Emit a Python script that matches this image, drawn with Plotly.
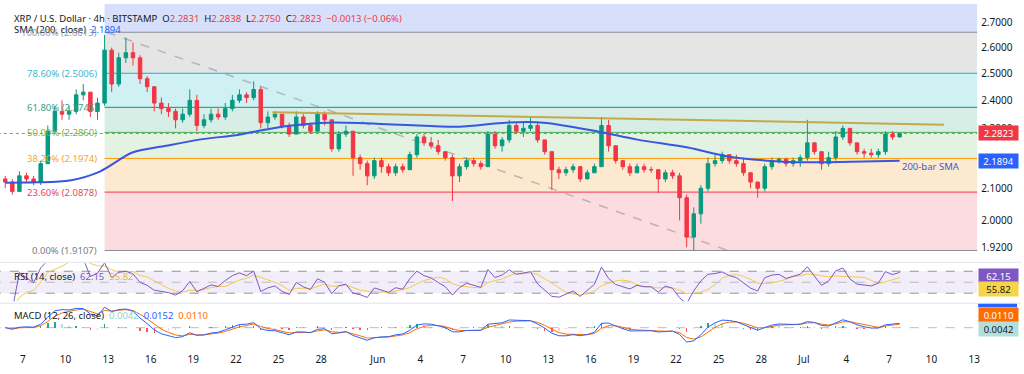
import math
import pandas as pd
import plotly.graph_objects as go

W, H = 1024, 374
FONT = "Noto Sans"

# ---------------- data ----------------
bar_centre_start = "2025-05-05 18:00"   # 12h bars, centre of first bar
bar_freq = "12h"
first_open = 2.13
closes = [
    2.12,
    2.09, 2.14,   2.13, 2.12,   2.18, 2.29,   2.36, 2.35,   2.36, 2.42,   2.43, 2.36,
    2.39, 2.59,   2.46, 2.56,   2.58, 2.56,   2.48, 2.45,   2.39, 2.37,   2.36, 2.33,
    2.35, 2.40,   2.31, 2.33,   2.35, 2.34,   2.37, 2.40,   2.42, 2.41,   2.44, 2.32,
    2.34, 2.35,   2.31, 2.28,   2.34, 2.31,   2.29, 2.35,   2.33, 2.23,   2.28, 2.29,
    2.20, 2.18,   2.14, 2.19,
    2.17, 2.15,   2.17, 2.16,   2.21, 2.27,   2.25, 2.24,   2.22, 2.20,   2.14, 2.17,
    2.19, 2.18,   2.17, 2.28,   2.24, 2.26,   2.31, 2.29,   2.30, 2.31,   2.26, 2.22,
    2.16, 2.15,   2.16, 2.17,   2.13, 2.15,   2.17, 2.31,   2.24, 2.19,   2.17, 2.15,
    2.17, 2.16,   2.16, 2.13,   2.15, 2.14,   2.07, 1.95,   2.02, 2.10,   2.18, 2.19,
    2.21, 2.19,   2.18, 2.15,   2.12, 2.10,   2.17, 2.19,   2.195, 2.18,  2.19, 2.20,
    2.25, 2.22,   2.18, 2.20,   2.27, 2.30,   2.25, 2.22,   2.215, 2.21,  2.22, 2.28,
    2.27, 2.2823,
]
highs = [
    2.14,
    2.13, 2.155,  2.15, 2.14,   2.19, 2.31,   2.38, 2.40,   2.38, 2.44,   2.46, 2.43,
    2.41, 2.65,   2.60, 2.58,   2.64, 2.62,   2.57, 2.49,   2.45, 2.41,   2.39, 2.37,
    2.37, 2.44,   2.42, 2.35,   2.37, 2.37,   2.39, 2.42,   2.44, 2.43,   2.47, 2.45,
    2.36, 2.36,   2.35, 2.32,   2.36, 2.35,   2.32, 2.36,   2.36, 2.33,   2.29, 2.31,
    2.29, 2.21,   2.19, 2.20,
    2.20, 2.18,   2.18, 2.18,   2.22, 2.28,   2.28, 2.27,   2.26, 2.22,   2.21, 2.18,
    2.20, 2.20,   2.19, 2.29,   2.29, 2.27,   2.33, 2.32,   2.32, 2.34,   2.32, 2.26,
    2.22, 2.17,   2.17, 2.18,   2.17, 2.16,   2.18, 2.34,   2.33, 2.24,   2.19, 2.18,
    2.18, 2.18,   2.17, 2.16,   2.16, 2.16,   2.15, 2.08,   2.04, 2.11,   2.20, 2.21,
    2.22, 2.21,   2.21, 2.20,   2.15, 2.12,   2.18, 2.20,   2.20, 2.20,   2.20, 2.21,
    2.33, 2.25,   2.22, 2.22,   2.29, 2.31,   2.30, 2.25,   2.23, 2.23,   2.23, 2.29,
    2.29, 2.2838,
]
lows = [
    2.10,
    2.08, 2.09,   2.12, 2.11,   2.11, 2.18,   2.28, 2.33,   2.33, 2.35,   2.40, 2.34,
    2.33, 2.38,   2.43, 2.45,   2.54, 2.53,   2.46, 2.43,   2.36, 2.35,   2.34, 2.30,
    2.32, 2.34,   2.29, 2.30,   2.32, 2.33,   2.33, 2.36,   2.39, 2.39,   2.40, 2.30,
    2.30, 2.33,   2.30, 2.27,   2.28, 2.30,   2.28, 2.29,   2.31, 2.22,   2.22, 2.27,
    2.14, 2.16,   2.11, 2.13,
    2.15, 2.14,   2.14, 2.15,   2.16, 2.20,   2.24, 2.23,   2.21, 2.19,   2.06, 2.12,
    2.16, 2.17,   2.16, 2.17,   2.23, 2.22,   2.25, 2.28,   2.27, 2.29,   2.25, 2.21,
    2.095, 2.13,  2.14, 2.15,   2.12, 2.13,   2.15, 2.17,   2.22, 2.18,   2.16, 2.14,
    2.15, 2.15,   2.15, 2.085,  2.12, 2.13,   2.00, 1.92,   1.9107, 1.99, 2.09, 2.17,
    2.18, 2.18,   2.17, 2.14,   2.10, 2.07,   2.09, 2.16,   2.18, 2.17,   2.17, 2.17,
    2.19, 2.21,   2.16, 2.17,   2.19, 2.26,   2.24, 2.21,   2.20, 2.20,   2.20, 2.21,
    2.26, 2.27,
]

sma_dates = ["2025-05-05 18:00", "2025-05-07 23:00", "2025-05-10 07:00", "2025-05-12 10:00",
             "2025-05-14 17:00", "2025-05-17 02:00", "2025-05-19 10:00", "2025-05-22 05:00",
             "2025-05-24 03:00", "2025-05-25 18:00", "2025-05-28 13:00", "2025-06-02 12:00",
             "2025-06-06 17:00", "2025-06-10 00:00", "2025-06-12 16:00", "2025-06-16 12:00",
             "2025-06-19 07:00", "2025-06-22 20:00", "2025-06-25 16:00", "2025-06-28 11:00",
             "2025-06-30 13:00", "2025-07-02 16:00", "2025-07-07 18:00"]
sma_values = [2.118, 2.119, 2.125, 2.154, 2.217, 2.240, 2.261, 2.278, 2.296, 2.309, 2.320, 2.313,
              2.306, 2.320, 2.320, 2.289, 2.261, 2.234, 2.204, 2.190, 2.185, 2.185, 2.1894]

fib_pcts = [0.0, 23.6, 38.2, 50.0, 61.8, 78.6, 100.0]
fib_levels = [1.9107, 2.0878, 2.1974, 2.2860, 2.3746, 2.5006, 2.6613]
fib_line_colors = ["#8a8d96", "#f23645", "#ff9800", "#4caf50", "#089981", "#00bcd4", "#8a8d96"]
fib_label_colors = ["#787b86", "#e04c5f", "#f5a623", "#7cb342", "#3a9e8a", "#3db8cc", "#9a9da6"]
fib_zone_colors = ["#fcdcdf", "#fde9cf", "#e3f2e1", "#d6eee6", "#d0f1f4", "#e5e5e6"]
fib_top_color = "#d7e0fa"
fib_top_price = 3.0
fib_start = "2025-05-12 18:00"
far_right = "2025-07-20 00:00"
far_left = "2025-05-01 00:00"

trend_dates = ["2025-05-24 13:30", "2025-07-10 21:00"]
trend_values = [2.357, 2.313]
diag_dates = ["2025-05-12 21:30", "2025-06-25 15:30"]
diag_values = [2.6613, 1.9107]

last_price = 2.2823
sma_last = 2.1894
ohlc_letters = ["O", "H", "L", "C"]
ohlc_values = ["2.2831", "2.2838", "2.2750", "2.2823"]
change_text = "\u22120.0013 (\u22120.06%)"
rsi_last, rsi_ma_last = "62.15", "55.82"
macd_hist_last, macd_last, macd_signal_last = "0.0042", "0.0152", "0.0110"

price_ticks = [1.92, 2.0, 2.1, 2.3, 2.4, 2.5, 2.6, 2.7]
date_ticks = ["2025-05-07", "2025-05-10", "2025-05-13", "2025-05-16", "2025-05-19", "2025-05-22",
              "2025-05-25", "2025-05-28", "2025-06-01", "2025-06-04", "2025-06-07", "2025-06-10",
              "2025-06-13", "2025-06-16", "2025-06-19", "2025-06-22", "2025-06-25", "2025-06-28",
              "2025-07-01", "2025-07-04", "2025-07-07", "2025-07-10", "2025-07-13"]
date_labels = ["7", "10", "13", "16", "19", "22", "25", "28", "Jun", "4", "7", "10", "13", "16",
               "19", "22", "25", "28", "Jul", "4", "7", "10", "13"]

# indicator lengths (4h settings expressed in 12h bars)
RSI_LEN, RSI_MA_LEN = 5, 5
MACD_FAST, MACD_SLOW, MACD_SIG = 4, 9, 3

# ---------------- derived series ----------------
n = len(closes)
assert len(highs) == n and len(lows) == n
times = pd.date_range(bar_centre_start, periods=n, freq=bar_freq)
opens = [first_open] + closes[:-1]

c = pd.Series(closes, dtype=float)
delta = c.diff().fillna(0.0)
gain = delta.clip(lower=0).ewm(alpha=1 / RSI_LEN, adjust=False).mean()
loss = (-delta.clip(upper=0)).ewm(alpha=1 / RSI_LEN, adjust=False).mean()
rsi = 100 - 100 / (1 + gain / loss.replace(0, 1e-9))
rsi_ma = rsi.rolling(RSI_MA_LEN, min_periods=1).mean()

macd = c.ewm(span=MACD_FAST, adjust=False).mean() - c.ewm(span=MACD_SLOW, adjust=False).mean()
signal = macd.ewm(span=MACD_SIG, adjust=False).mean()
hist = macd - signal
hist_colors = []
for i, h in enumerate(hist):
    prev = hist.iloc[i - 1] if i > 0 else 0
    if h >= 0:
        hist_colors.append("#26a69a" if h >= prev else "#b2dfdb")
    else:
        hist_colors.append("#ffcdd2" if h >= prev else "#ff5252")

# ---------------- layout geometry ----------------
PLOT_RIGHT = 980


def pyp(pix):
    return 1 - pix / H


main_dom = [pyp(253), pyp(4)]
rsi_dom = [pyp(302), pyp(264)]
macd_dom = [pyp(346), pyp(305)]
x_range = ["2025-05-05 09:12", "2025-07-13 05:00"]
price_range = [math.log10(1.9054), math.log10(2.778)]
mlo, mhi = float(min(macd.min(), signal.min())), float(max(macd.max(), signal.max()))
pad = (mhi - mlo) * 3 / 35
macd_range = [mlo - pad, mhi + pad]

fig = go.Figure()

# fib zones (base subplot x/y, drawn underneath the overlay with the candles)
zone_bounds = list(zip(fib_levels[:-1], fib_levels[1:])) + [(fib_levels[-1], fib_top_price)]
zone_cols = fib_zone_colors + [fib_top_color]
for (lo, hi), col in zip(zone_bounds, zone_cols):
    fig.add_trace(go.Scatter(x=[fib_start, far_right, far_right, fib_start, fib_start],
                             y=[lo, lo, hi, hi, lo], fill="toself", fillcolor=col,
                             mode="lines", line=dict(width=0), hoverinfo="skip",
                             xaxis="x", yaxis="y"))
for lvl, col in zip(fib_levels, fib_line_colors):
    fig.add_trace(go.Scatter(x=[fib_start, far_right], y=[lvl, lvl], mode="lines",
                             line=dict(color=col, width=1), hoverinfo="skip",
                             xaxis="x", yaxis="y"))
# current price dotted line
fig.add_trace(go.Scatter(x=[far_left, far_right], y=[last_price, last_price], mode="lines",
                         line=dict(color="rgba(60,120,100,0.75)", width=1, dash="dot"),
                         hoverinfo="skip", xaxis="x", yaxis="y"))
# dashed fib trend line
fig.add_trace(go.Scatter(x=diag_dates, y=diag_values, mode="lines",
                         line=dict(color="rgba(140,140,150,0.55)", width=1.5, dash="dash"),
                         hoverinfo="skip", xaxis="x", yaxis="y"))

# candles on overlay axis y4 (same scale as y)
fig.add_trace(go.Candlestick(x=times, open=opens, high=highs, low=lows, close=closes,
                             increasing=dict(line=dict(color="#089981", width=1), fillcolor="#089981"),
                             decreasing=dict(line=dict(color="#f23645", width=1), fillcolor="#f23645"),
                             whiskerwidth=0, xaxis="x", yaxis="y4", hoverinfo="skip"))
# SMA 200
fig.add_trace(go.Scatter(x=sma_dates, y=sma_values, mode="lines",
                         line=dict(color="#3a56e0", width=2, shape="spline", smoothing=0.8),
                         hoverinfo="skip", xaxis="x", yaxis="y4"))
# resistance trend line
fig.add_trace(go.Scatter(x=trend_dates, y=trend_values, mode="lines",
                         line=dict(color="rgba(196,160,60,0.9)", width=2),
                         hoverinfo="skip", xaxis="x", yaxis="y4"))

# RSI panel
fig.add_trace(go.Scatter(x=[far_left, far_right, far_right, far_left, far_left],
                         y=[30, 30, 70, 70, 30], fill="toself", fillcolor="rgba(126,87,194,0.10)",
                         mode="lines", line=dict(width=0), hoverinfo="skip",
                         xaxis="x2", yaxis="y2"))
for lvl, col in [(70, "rgba(120,123,134,0.8)"), (50, "rgba(120,123,134,0.45)"), (30, "rgba(120,123,134,0.8)")]:
    fig.add_trace(go.Scatter(x=[far_left, far_right], y=[lvl, lvl], mode="lines",
                             line=dict(color=col, width=1, dash="dash"), hoverinfo="skip",
                             xaxis="x2", yaxis="y2"))
fig.add_trace(go.Scatter(x=times, y=rsi_ma, mode="lines", line=dict(color="#f5c94a", width=1),
                         hoverinfo="skip", xaxis="x2", yaxis="y2"))
fig.add_trace(go.Scatter(x=times, y=rsi, mode="lines", line=dict(color="#7e57c2", width=1),
                         hoverinfo="skip", xaxis="x2", yaxis="y2"))

# MACD panel
fig.add_trace(go.Scatter(x=[far_left, far_right], y=[0, 0], mode="lines",
                         line=dict(color="rgba(120,123,134,0.5)", width=1, dash="dash"),
                         hoverinfo="skip", xaxis="x3", yaxis="y3"))
fig.add_trace(go.Bar(x=times, y=hist, marker=dict(color=hist_colors, line=dict(width=0)),
                     width=2.4 * 3600 * 1000, hoverinfo="skip", xaxis="x3", yaxis="y3"))
fig.add_trace(go.Scatter(x=times, y=signal, mode="lines", line=dict(color="#ff6d00", width=1),
                         hoverinfo="skip", xaxis="x3", yaxis="y3"))
fig.add_trace(go.Scatter(x=times, y=macd, mode="lines", line=dict(color="#2962ff", width=1),
                         hoverinfo="skip", xaxis="x3", yaxis="y3"))

# ---------------- annotations ----------------
ann = []
red = "#f23645"
hdr = "XRP / U.S. Dollar \u00b7 4h \u00b7 BITSTAMP\u00a0\u00a0"
for letter, val in zip(ohlc_letters, ohlc_values):
    hdr += f"{letter}<span style='color:{red}'>{val}</span>\u00a0\u00a0"
hdr += f"<span style='color:{red}'>{change_text}</span>"
ann.append(dict(xref="paper", yref="paper", x=12 / W, y=pyp(19), xanchor="left", yanchor="middle",
                text=hdr, showarrow=False, font=dict(size=9.5, color="#131722")))
ann.append(dict(xref="paper", yref="paper", x=12 / W, y=pyp(30), xanchor="left", yanchor="middle",
                text=f"SMA (200, close)\u00a0\u00a0<span style='color:#2962ff'>{sma_last:.4f}</span>",
                showarrow=False, font=dict(size=9.5, color="#131722")))
ann.append(dict(xref="paper", yref="paper", x=12 / W, y=pyp(277), xanchor="left", yanchor="middle",
                text=f"RSI (14, close)\u00a0\u00a0<span style='color:#7e57c2'>{rsi_last}</span>"
                     f"\u00a0\u00a0<span style='color:#e8b830'>{rsi_ma_last}</span>",
                showarrow=False, font=dict(size=9.5, color="#131722")))
ann.append(dict(xref="paper", yref="paper", x=12 / W, y=pyp(316), xanchor="left", yanchor="middle",
                text=f"MACD (12, 26, close)\u00a0\u00a0<span style='color:#8fd3cb'>{macd_hist_last}</span>"
                     f"\u00a0\u00a0<span style='color:#2962ff'>{macd_last}</span>"
                     f"\u00a0\u00a0<span style='color:#ff6d00'>{macd_signal_last}</span>",
                showarrow=False, font=dict(size=9.5, color="#131722")))

# fib labels
for pct, lvl, col in zip(fib_pcts, fib_levels, fib_label_colors):
    ann.append(dict(xref="x", yref="y", x=fib_start, y=math.log10(lvl), xanchor="right",
                    yanchor="middle", xshift=-6, text=f"{pct:.2f}% ({lvl:.4f})",
                    showarrow=False, font=dict(size=9.5, color=col)))

# SMA caption
ann.append(dict(xref="x", yref="y", x=sma_dates[-1], y=math.log10(sma_last), xanchor="left",
                yanchor="top", xshift=0, yshift=3, text="200-bar SMA", showarrow=False,
                font=dict(size=9.5, color="#4458d0")))


def box(y, yref, text, bg, fg):
    return dict(xref="paper", x=(PLOT_RIGHT + 1) / W, xanchor="left", yref=yref, y=y,
                yanchor="middle", text=text, showarrow=False, bgcolor=bg,
                font=dict(size=9.5, color=fg), borderpad=1, width=37, height=12, align="center")


ann.append(box(math.log10(last_price), "y", f"{last_price:.4f}", red, "white"))
ann.append(box(math.log10(sma_last), "y", f"{sma_last:.4f}", "#2962ff", "white"))
ann.append(box(pyp(277), "paper", rsi_last, "#7e57c2", "white"))
ann.append(box(pyp(290), "paper", rsi_ma_last, "#f7d447", "#131722"))
ann.append(box(pyp(316), "paper", macd_signal_last, "#ff6d00", "white"))
ann.append(box(pyp(330), "paper", macd_hist_last, "#b2dfdb", "#131722"))

shapes = [
    dict(type="line", xref="paper", yref="paper", x0=0, x1=1, y0=pyp(263), y1=pyp(263),
         line=dict(color="#e0e3eb", width=1)),
    dict(type="line", xref="paper", yref="paper", x0=0, x1=1, y0=pyp(304), y1=pyp(304),
         line=dict(color="#e0e3eb", width=1)),
    dict(type="rect", xref="paper", yref="paper", x0=(PLOT_RIGHT + 1) / W, x1=(PLOT_RIGHT + 40) / W,
         y0=pyp(308), y1=pyp(304.5), fillcolor="#2962ff", line=dict(width=0)),
]

axis_common = dict(showgrid=False, zeroline=False, showline=False)
fig.update_layout(
    width=W, height=H, margin=dict(l=0, r=0, t=0, b=0),
    paper_bgcolor="white", plot_bgcolor="white", showlegend=False,
    font=dict(family=FONT, size=9.5, color="#131722"),
    xaxis=dict(domain=[0, PLOT_RIGHT / W], range=x_range, type="date", anchor="y",
               showticklabels=False, rangeslider=dict(visible=False), **axis_common),
    xaxis2=dict(domain=[0, PLOT_RIGHT / W], matches="x", type="date", anchor="y2",
                showticklabels=False, **axis_common),
    xaxis3=dict(domain=[0, PLOT_RIGHT / W], matches="x", type="date", anchor="y3",
                tickmode="array", tickvals=date_ticks, ticktext=date_labels, ticks="",
                ticklabelstandoff=7, tickfont=dict(size=10, color="#131722"), **axis_common),
    yaxis=dict(domain=main_dom, type="log", range=price_range, side="right", anchor="x",
               tickmode="array", tickvals=price_ticks, ticktext=[f"{v:.4f}" for v in price_ticks],
               ticks="", ticklabelstandoff=3, tickfont=dict(size=10, color="#131722"),
               **axis_common),
    yaxis4=dict(overlaying="y", type="log", range=price_range, anchor="x", side="right",
                showticklabels=False, visible=False, **axis_common),
    yaxis2=dict(domain=rsi_dom, range=[15.45, 84.5], anchor="x2", showticklabels=False, **axis_common),
    yaxis3=dict(domain=macd_dom, range=macd_range, anchor="x3", showticklabels=False, **axis_common),
    annotations=ann, shapes=shapes, bargap=0,
)

fig.write_html("out.html", config={"displayModeBar": False, "staticPlot": True},
               post_script="document.body.style.margin='0';document.body.style.overflow='hidden';")
